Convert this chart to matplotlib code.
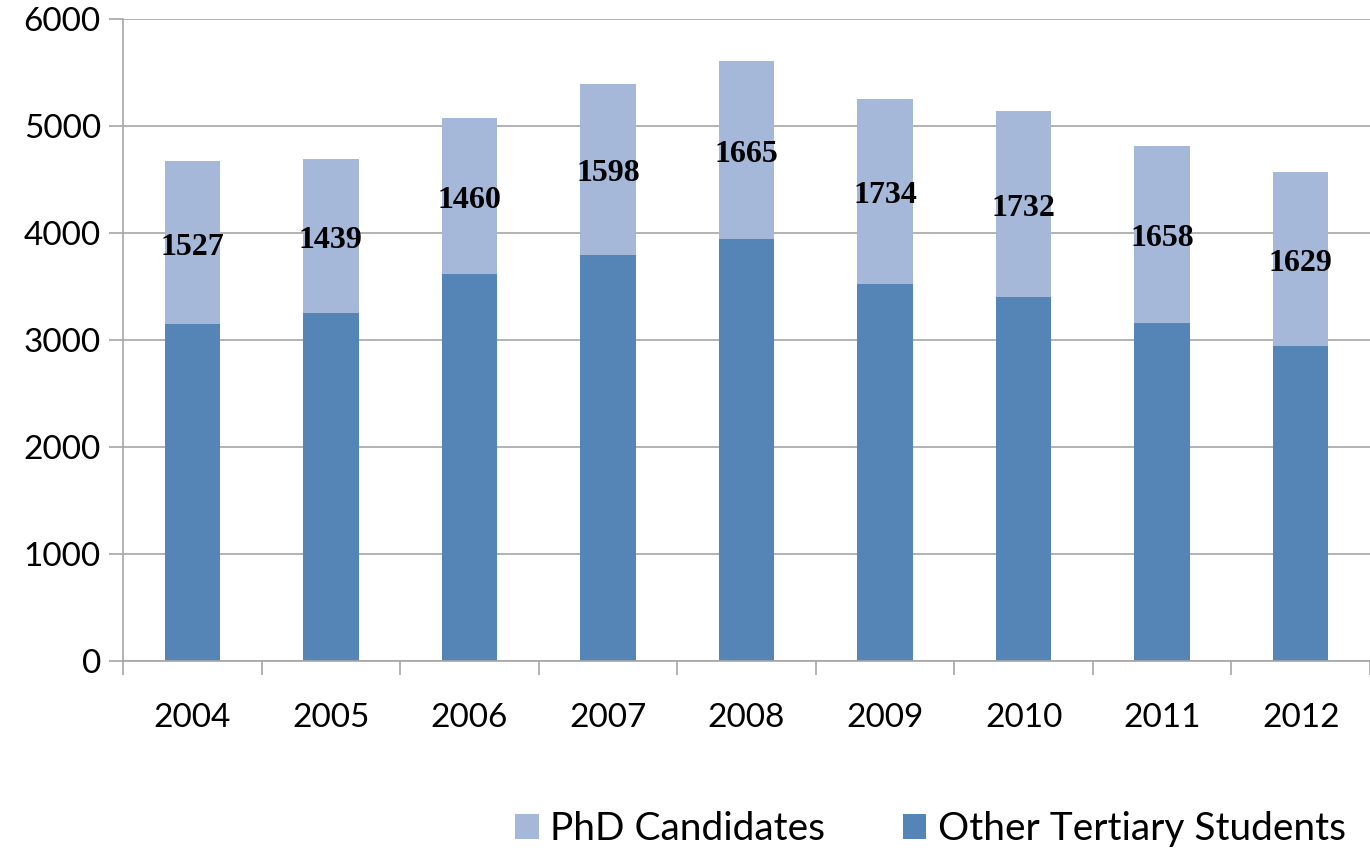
import numpy as np
import matplotlib.pyplot as plt

years = ['2004', '2005', '2006', '2007', '2008', '2009', '2010', '2011', '2012']
other = [3145, 3253, 3617, 3795, 3940, 3520, 3405, 3158, 2940]
phd = [1527, 1439, 1460, 1598, 1665, 1734, 1732, 1658, 1629]

c_phd = '#A5B8D9'
c_other = '#5584B6'
grey = '#A6A6A6'

plt.rcParams['font.family'] = ['Lato', 'DejaVu Sans']

fig = plt.figure(figsize=(13.7, 8.48), dpi=100)
ax = fig.add_axes([123/1370, 1-661/848, 1-123/1370, 642/848])

x = np.arange(len(years))
ax.bar(x, other, width=0.4, color=c_other, zorder=2, label='Other Tertiary Students')
ax.bar(x, phd, width=0.4, bottom=other, color=c_phd, zorder=2, label='PhD Candidates')

# labels sit in the middle of the PhD segment
for i in range(len(years)):
    ax.text(x[i], other[i] + phd[i]/2 - 40, str(phd[i]), ha='center', va='center',
            fontsize=23, fontweight='bold', family='Liberation Serif', zorder=3)

ax.set_xlim(-0.5, len(years) - 0.5)
ax.set_ylim(0, 6000)
ax.set_yticks(range(0, 6001, 1000))
ax.yaxis.grid(True, color=grey, linewidth=1.2, zorder=0)

ax.set_xticks(x)
ax.set_xticklabels(years)
ax.set_xticks(np.arange(-0.5, len(years)), minor=True)
ax.tick_params(axis='x', which='major', length=0, pad=30, labelsize=24)
ax.tick_params(axis='x', which='minor', length=10, color=grey, width=1.2)
ax.tick_params(axis='y', length=10, color=grey, width=1.2, labelsize=24, pad=6)

for s in ['top', 'right']:
    ax.spines[s].set_visible(False)
for s in ['left', 'bottom']:
    ax.spines[s].set_color(grey)
    ax.spines[s].set_linewidth(1.2)

h, l = ax.get_legend_handles_labels()
fig.legend(h[::-1], l[::-1], loc='lower right', bbox_to_anchor=(1.008, -0.04), ncol=2,
           frameon=False, fontsize=28, handlelength=0.6, handleheight=0.6,
           handletextpad=0.3, columnspacing=2.0)

fig.savefig('out.png', dpi=100)
